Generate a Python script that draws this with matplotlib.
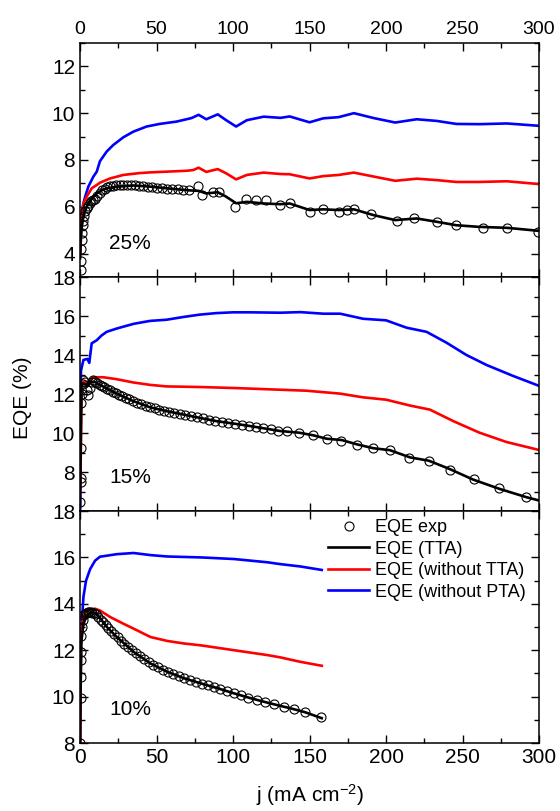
import matplotlib
matplotlib.use("Agg")
import matplotlib.pyplot as plt
from matplotlib.ticker import MultipleLocator

plt.rcParams['font.family'] = ['Liberation Sans', 'DejaVu Sans']
plt.rcParams['mathtext.fontset'] = 'custom'
plt.rcParams['mathtext.rm'] = 'Liberation Sans'
plt.rcParams['mathtext.default'] = 'regular'

# ---------- 25% panel ----------
blue25_j = [0, 0.5, 1.1, 2, 3.3, 5.4, 8.7, 10.9, 13, 17.4, 21.7, 28.3, 34.8, 43.5, 52, 63, 72.8, 77.5, 82.5, 90,
            95.5, 102, 109, 120, 131, 137, 150, 159, 169, 179, 192, 206, 220, 233, 246, 261, 279, 300]
blue25 = [4.0, 4.9, 5.7, 6.1, 6.43, 6.86, 7.29, 7.5, 7.95, 8.36, 8.64, 8.97, 9.21, 9.43, 9.54, 9.64, 9.79, 9.93, 9.74, 9.95,
          9.7, 9.43, 9.7, 9.85, 9.8, 9.86, 9.61, 9.78, 9.83, 10.0, 9.79, 9.6, 9.74, 9.67, 9.54, 9.53, 9.56, 9.46]
red25_j = [0, 0.5, 1, 2.2, 4.3, 7.6, 10.9, 13, 19.6, 28.3, 39, 46, 56.5, 70, 74, 77.5, 82.5, 90,
           95.5, 102, 109, 120, 131, 137, 150, 159, 169, 179, 192, 206, 220, 233, 246, 261, 279, 300]
red25 = [3.9, 4.9, 5.4, 6.14, 6.43, 6.79, 6.93, 7.03, 7.21, 7.36, 7.44, 7.47, 7.5, 7.54, 7.57, 7.67, 7.49, 7.61,
         7.43, 7.17, 7.36, 7.46, 7.4, 7.39, 7.21, 7.31, 7.36, 7.46, 7.29, 7.11, 7.2, 7.14, 7.06, 7.06, 7.09, 6.97]
black25_j = [0, 0.5, 1, 2, 3, 4.3, 6, 8, 11, 14, 17.5, 24, 35, 46, 56.5, 70, 74, 77.5, 82.5, 90,
             95.5, 102, 109, 120, 131, 137, 150, 159, 169, 179, 192, 206, 220, 233, 246, 261, 279, 300]
black25 = [3.8, 4.6, 5.1, 5.5, 5.75, 6.0, 6.2, 6.38, 6.57, 6.7, 6.79, 6.86, 6.91, 6.86, 6.79, 6.71, 6.69, 6.68, 6.57, 6.62,
           6.43, 6.15, 6.21, 6.14, 6.11, 6.14, 5.86, 5.89, 5.86, 5.89, 5.64, 5.43, 5.5, 5.36, 5.21, 5.14, 5.1, 4.97]
exp25_j = [0.3, 0.5, 0.8, 1.0, 1.3, 1.7, 2.2, 2.8, 3.5, 4.3, 5.2, 6.2, 7.3, 8.5, 9.8, 11.2, 12.7, 14.3, 16, 17.8,
           19.7, 21.7, 23.8, 26, 28.3, 30.7, 33.2, 35.8, 38.5, 41.3, 44.2, 47.2, 50.3, 53.5, 56.8, 60.2, 63.7, 67.3, 71,
           77, 80, 87, 91, 101, 108.7, 115, 121.7, 131, 137, 150, 159, 169, 174.3, 179, 190, 207, 218, 233, 246,
           263.5, 279, 299.6]
exp25 = [3.3, 3.7, 4.2, 4.6, 4.9, 5.2, 5.4, 5.6, 5.8, 5.95, 6.05, 6.15, 6.25, 6.3, 6.35, 6.45, 6.6, 6.7, 6.78, 6.83,
         6.87, 6.9, 6.92, 6.93, 6.93, 6.93, 6.93, 6.92, 6.9, 6.88, 6.86, 6.84, 6.82, 6.8, 6.78, 6.76, 6.74, 6.72, 6.7,
         6.89, 6.5, 6.64, 6.64, 6.0, 6.33, 6.29, 6.29, 6.07, 6.14, 5.76, 5.89, 5.79, 5.86, 5.89, 5.69, 5.4, 5.5, 5.36, 5.2,
         5.1, 5.1, 4.93]

# ---------- 15% panel ----------
blue15_j = [0, 0.3, 0.6, 2.2, 4.8, 6, 7.6, 10.9, 14, 17.4, 24, 35, 45.7, 56.5, 67.4, 78, 89, 100, 111, 131, 144,
            159, 170, 185, 200, 213.5, 226.5, 239.6, 252.6, 265.7, 283, 300]
blue15 = [6.0, 10.5, 13.2, 13.75, 13.8, 13.6, 14.6, 14.76, 15.0, 15.19, 15.36, 15.6, 15.75, 15.81, 15.95, 16.07, 16.15, 16.19, 16.19, 16.17, 16.2,
          16.12, 16.12, 15.86, 15.78, 15.4, 15.19, 14.63, 14.0, 13.49, 12.93, 12.42]
red15_j = [0, 0.5, 1, 3.3, 4.8, 6.5, 8.7, 15.2, 24, 35, 45.7, 56.5, 78, 100, 131, 148, 170, 185, 200, 215.6,
           228.7, 244, 261, 278.7, 300]
red15 = [7.0, 9.0, 12.56, 12.64, 12.39, 12.73, 12.86, 12.86, 12.76, 12.59, 12.47, 12.39, 12.36, 12.31, 12.22, 12.17, 12.02, 11.83, 11.71, 11.41,
         11.2, 10.61, 10.02, 9.54, 9.13]
black15_j = [0, 0.5, 1, 4.3, 6.5, 9.8, 13, 24, 35, 45.7, 56.5, 67.4, 78, 89, 100, 111, 131, 143, 152.6, 161,
             171, 181, 191.7, 202.6, 215.7, 228, 241.7, 257, 274, 291.7, 300]
black15 = [6.3, 10.0, 12.56, 12.47, 12.64, 12.61, 12.47, 12.02, 11.63, 11.32, 11.12, 10.95, 10.78, 10.61, 10.49, 10.36, 10.1, 10.02, 9.88, 9.71,
           9.64, 9.42, 9.22, 9.12, 8.75, 8.58, 8.15, 7.61, 7.14, 6.71, 6.54]
exp15_j = [0.2, 0.3, 0.4, 0.5, 0.8, 1.2, 1.6, 2.2, 3.3, 4.5, 5.4, 6.5, 7.6, 8.7,
           10, 11.3, 12.7, 14.2, 15.8, 17.5, 19.3, 21.2, 23.2, 25.3, 27.5, 29.8, 32.2, 34.7, 37.3, 40, 42.8, 45.7,
           48.7, 51.8, 55, 58.3, 61.7, 65.2, 68.8, 72.5, 76.3, 80.2, 84.2, 88.3, 92.5, 96.8, 101.2, 105.7, 110.3,
           115, 119.8, 124.7, 129.7, 135, 143, 152, 161.7, 170.6, 181, 191.7, 202.6, 215, 228, 242, 257.4, 274, 291.7]
exp15 = [6.46, 7.47, 7.7, 9.25, 11.54, 12.0, 12.5, 12.7, 12.6, 12.2, 11.97, 12.3, 12.6, 12.7,
         12.6, 12.55, 12.48, 12.42, 12.35, 12.28, 12.2, 12.12, 12.05, 11.97, 11.89, 11.81, 11.72, 11.64, 11.56, 11.48, 11.4, 11.32,
         11.26, 11.2, 11.14, 11.09, 11.04, 10.98, 10.93, 10.87, 10.81, 10.75, 10.68, 10.62, 10.57, 10.52, 10.48, 10.42, 10.37,
         10.31, 10.25, 10.19, 10.12, 10.1, 10.02, 9.88, 9.68, 9.61, 9.39, 9.22, 9.12, 8.71, 8.58, 8.1, 7.63, 7.17, 6.71]

# ---------- 10% panel ----------
blue10_j = [0, 0.3, 0.7, 2.2, 3.9, 6.6, 9.8, 13, 24, 35, 46, 57, 79, 100.7, 122.5, 131, 144, 158]
blue10 = [8.0, 10.5, 12.7, 14.3, 15.0, 15.5, 15.86, 16.03, 16.14, 16.19, 16.1, 16.04, 16.0, 15.93, 15.79, 15.71, 15.61, 15.46]
red10_j = [0, 0.3, 0.7, 1.8, 3.3, 5.5, 9.8, 13, 19.7, 28.4, 35, 46, 57, 68, 79, 100.7, 122.5, 131, 144, 158]
red10 = [8.0, 10.0, 12.4, 13.3, 13.64, 13.74, 13.79, 13.71, 13.43, 13.14, 12.93, 12.57, 12.4, 12.29, 12.21, 12.0, 11.79, 11.69, 11.5, 11.33]
black10_j = [0, 0.3, 0.7, 2.2, 4.4, 7.7, 10.9, 17.5, 24, 35, 46, 57, 68, 79, 90, 100.7, 111.6, 122.5, 131, 137.4, 147, 158]
black10 = [8.0, 10.0, 12.29, 13.14, 13.5, 13.64, 13.57, 13.0, 12.57, 11.93, 11.43, 11.07, 10.79, 10.57, 10.36, 10.14, 9.93, 9.74, 9.6, 9.5, 9.33, 9.07]
exp10_j = [0.2, 0.3, 0.4, 0.5, 0.7, 0.9, 1.2, 1.6, 2.2, 3, 4, 5, 6, 7, 8, 9.2, 10.5, 11.9, 13.4, 15, 16.7, 18.5, 20.4, 22.4,
           24.5, 26.7, 29, 31.4, 33.9, 36.5, 39.2, 42, 44.9, 47.9, 51, 54.2, 57.5, 60.9, 64.4, 68, 71.7, 75.5, 79.4,
           83.4, 87.5, 91.7, 96, 100.4, 105, 110, 115.5, 121, 127, 133, 140, 147, 157.5]
exp10 = [8.0, 9.93, 10.86, 11.57, 11.93, 12.6, 13.0, 13.3, 13.5, 13.55, 13.62, 13.65, 13.66, 13.65, 13.62, 13.6, 13.55, 13.45, 13.32, 13.2, 13.07, 12.95, 12.82, 12.68,
         12.55, 12.41, 12.27, 12.13, 11.99, 11.86, 11.74, 11.61, 11.48, 11.37, 11.26, 11.16, 11.06, 10.97, 10.88, 10.79, 10.71, 10.63, 10.56,
         10.48, 10.4, 10.33, 10.24, 10.15, 10.06, 9.96, 9.86, 9.76, 9.67, 9.57, 9.46, 9.33, 9.11]

panels = [
    ("25%", blue25_j, blue25, red25_j, red25, black25_j, black25, exp25_j, exp25, (3, 13), [4, 6, 8, 10, 12]),
    ("15%", blue15_j, blue15, red15_j, red15, black15_j, black15, exp15_j, exp15, (6, 18), [8, 10, 12, 14, 16, 18]),
    ("10%", blue10_j, blue10, red10_j, red10, black10_j, black10, exp10_j, exp10, (8, 18), [8, 10, 12, 14, 16, 18]),
]

fig = plt.figure(figsize=(5.6, 8.11), dpi=100)
boxes = [(0.143, 0.6585, 0.8195, 0.2885),
         (0.143, 0.3699, 0.8195, 0.2885),
         (0.143, 0.0838, 0.8195, 0.2861)]

for k, (lab, bj, b, rj, r, kj, kv, ej, ev, ylim, yt) in enumerate(panels):
    ax = fig.add_axes(boxes[k])
    hb, = ax.plot(bj, b, color='#0000ff', lw=1.9, zorder=2)
    hr, = ax.plot(rj, r, color='#ff0000', lw=1.9, zorder=2)
    he, = ax.plot(ej, ev, 'o', mfc='none', mec='black', ms=6.5, mew=0.8, zorder=3)
    hk, = ax.plot(kj, kv, color='black', lw=1.9, zorder=4)
    ax.set_xlim(0, 300)
    ax.set_ylim(*ylim)
    ax.set_yticks(yt)
    ax.yaxis.set_minor_locator(MultipleLocator(1))
    ax.xaxis.set_major_locator(MultipleLocator(50))
    ax.xaxis.set_minor_locator(MultipleLocator(25))
    ax.tick_params(which='both', direction='in', top=True, right=True, labelsize=15)
    ax.tick_params(which='major', length=6, width=1.0)
    ax.tick_params(which='minor', length=3.5, width=1.0)
    for s in ax.spines.values():
        s.set_linewidth(1.1)
    ax.text(0.063, 0.145, lab, transform=ax.transAxes, fontsize=15, va='center', ha='left')
    if k == 0:
        ax.tick_params(axis='x', labelbottom=False, labeltop=True, labelsize=14)
    elif k == 1:
        ax.tick_params(axis='x', labelbottom=False)
    else:
        ax.set_xlabel('j (mA cm$^{-2}$)', fontsize=15, labelpad=11)
        ax.legend([he, hk, hr, hb], ['EQE exp', 'EQE (TTA)', 'EQE (without TTA)', 'EQE (without PTA)'],
                  loc='upper left', bbox_to_anchor=(0.54, 0.965), frameon=False, fontsize=13,
                  handlelength=2.3, handletextpad=0.3, labelspacing=0.25, borderpad=0,
                  borderaxespad=0, numpoints=1)

fig.text(0.041, 0.509, 'EQE (%)', rotation=90, fontsize=15, va='center', ha='center')

fig.savefig('out.png', dpi=100)
